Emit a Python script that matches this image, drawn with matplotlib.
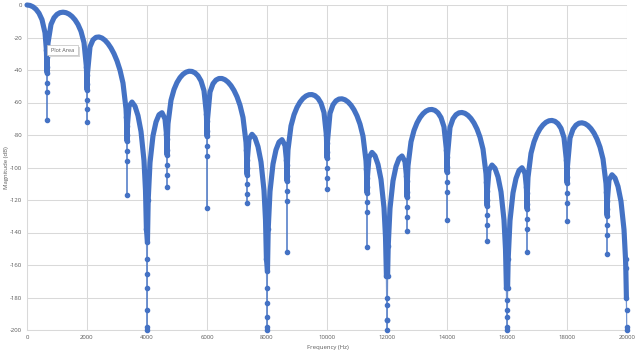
import matplotlib
matplotlib.use("Agg")
import matplotlib.pyplot as plt
from matplotlib.patches import FancyBboxPatch

# ---------------- data ----------------
# main curve, 100 Hz samples (null frequencies are listed in deep_* below)
grid_freq = [
    0, 100, 200, 300, 400, 500, 600, 700, 800, 900, 1000, 1100, 1200, 1300, 1400, 1500, 1600, 1700, 1800, 1900,
    2100, 2200, 2300, 2400, 2500, 2600, 2700, 2800, 2900, 3000, 3100, 3200, 3300, 3400, 3500, 3600, 3700, 3800, 3900,
    4100, 4200, 4300, 4400, 4500, 4600, 4700, 4800, 4900, 5000, 5100, 5200, 5300, 5400, 5500, 5600, 5700, 5800, 5900,
    6100, 6200, 6300, 6400, 6500, 6600, 6700, 6800, 6900, 7000, 7100, 7200, 7300, 7400, 7500, 7600, 7700, 7800, 7900,
    8100, 8200, 8300, 8400, 8500, 8600, 8700, 8800, 8900, 9000, 9100, 9200, 9300, 9400, 9500, 9600, 9700, 9800, 9900,
    10100, 10200, 10300, 10400, 10500, 10600, 10700, 10800, 10900, 11000, 11100, 11200, 11300, 11400, 11500, 11600, 11700, 11800, 11900,
    12100, 12200, 12300, 12400, 12500, 12600, 12700, 12800, 12900, 13000, 13100, 13200, 13300, 13400, 13500, 13600, 13700, 13800, 13900,
    14100, 14200, 14300, 14400, 14500, 14600, 14700, 14800, 14900, 15000, 15100, 15200, 15300, 15400, 15500, 15600, 15700, 15800, 15900,
    16100, 16200, 16300, 16400, 16500, 16600, 16700, 16800, 16900, 17000, 17100, 17200, 17300, 17400, 17500, 17600, 17700, 17800, 17900,
    18100, 18200, 18300, 18400, 18500, 18600, 18700, 18800, 18900, 19000, 19100, 19200, 19300, 19400, 19500, 19600, 19700, 19800, 19900,
]
grid_mag = [
    0.0, -0.27, -1.11, -2.62, -5.05, -9.01, -17.08, -23.43, -11.94, -7.84, -5.75, -4.71, -4.42, -4.72, -5.58, -7.02, -9.10, -12.01, -16.20, -23.15,
    -25.76, -21.43, -19.89, -19.67, -20.33, -21.71, -23.77, -26.50, -29.97, -34.37, -40.07, -48.06, -63.84, -62.28, -59.72, -62.30, -68.09, -77.83, -95.73,
    -97.03, -80.44, -72.00, -67.53, -66.27, -70.16, -73.05, -58.63, -52.00, -47.68, -44.68, -42.63, -41.34, -40.76, -40.88, -41.75, -43.54, -46.69, -52.68,
    -53.55, -48.43, -46.15, -45.23, -45.23, -45.99, -47.45, -49.62, -52.56, -56.45, -61.66, -69.20, -84.52, -82.55, -79.58, -81.77, -87.18, -96.57, -114.12,
    -114.77, -97.87, -89.14, -84.38, -82.84, -86.47, -89.10, -74.42, -67.55, -63.00, -59.77, -57.49, -55.99, -55.20, -55.12, -55.79, -57.39, -60.36, -66.16,
    -66.68, -61.40, -58.96, -57.88, -57.73, -58.33, -59.65, -61.67, -64.47, -68.23, -73.30, -80.71, -95.91, -93.81, -90.72, -92.79, -98.09, -107.36, -124.80,
    -125.23, -108.23, -99.39, -94.53, -92.89, -96.42, -98.95, -84.19, -77.22, -72.58, -69.26, -66.90, -65.32, -64.44, -64.28, -64.87, -66.39, -69.28, -75.01,
    -75.38, -70.02, -67.51, -66.36, -66.14, -66.68, -67.92, -69.88, -72.62, -76.31, -81.32, -88.67, -103.81, -101.65, -98.50, -100.51, -105.75, -114.97, -132.35,
    -132.68, -115.62, -106.73, -101.82, -100.12, -103.60, -106.09, -91.27, -84.26, -79.57, -76.21, -73.80, -72.17, -71.25, -71.04, -71.59, -73.06, -75.91, -81.60,
    -81.89, -76.49, -73.93, -72.74, -72.49, -72.99, -74.20, -76.12, -78.81, -82.47, -87.45, -94.75, -109.86, -107.66, -104.48, -106.46, -111.66, -120.85, -138.20,
]

# samples close to each null (upper part of the dip)
near_freq = [
    646.7, 660.7, 670.7, 678.7,
    1980, 1994, 2004, 2012,
    3313.3, 3327.3, 3337.3, 3345.3,
    3950, 3980, 4015, 4040,
    4646.7, 4660.7, 4670.7, 4678.7,
    5980, 5994, 6004, 6012,
    7313.3, 7327.3, 7337.3, 7345.3,
    7950, 7980, 8015, 8040,
    8646.7, 8660.7, 8670.7, 8678.7,
    9980, 9994, 10004, 10012,
    11313.3, 11327.3, 11337.3, 11345.3,
    11950, 11980, 12020, 12040,
    12646.7, 12660.7, 12670.7, 12678.7,
    13980, 13994, 14004, 14012,
    15313.3, 15327.3, 15337.3, 15345.3,
    15950, 15980, 16020, 16040,
    16646.7, 16660.7, 16670.7, 16678.7,
    17980, 17994, 18004, 18012,
    19313.3, 19327.3, 19337.3, 19345.3,
    19950, 19960, 19980,
]
near_mag = [
    -27.7, -38.2, -41.7, -32.2,
    -38.1, -48.7, -52.3, -42.9,
    -68.8, -79.9, -83.8, -74.6,
    -114.2, -138.1, -145.6, -120.0,
    -79.1, -89.1, -92.3, -82.5,
    -66.9, -77.4, -80.9, -71.4,
    -89.5, -100.5, -104.4, -95.1,
    -132.2, -156.1, -163.6, -138.1,
    -95.2, -105.2, -108.4, -98.6,
    -80.2, -90.7, -94.2, -84.7,
    -100.8, -111.8, -115.7, -106.5,
    -142.8, -166.7, -166.7, -148.6,
    -105.1, -115.1, -118.3, -108.5,
    -89.0, -99.5, -103.0, -93.5,
    -108.7, -119.7, -123.6, -114.3,
    -150.3, -174.2, -174.2, -156.1,
    -112.3, -122.3, -125.5, -115.6,
    -95.5, -106.0, -109.5, -100.0,
    -114.8, -125.7, -129.6, -120.4,
    -156.1, -161.9, -180.0,
]

# deepest samples at each null (the thin spikes)
deep_freq = [
    664.7, 666.7, 667.7,
    1998, 2000, 2001,
    3331.3, 3333.3, 3334.3,
    3990, 3995, 3998, 4000, 4003, 4007,
    4664.7, 4666.7, 4667.7,
    5998, 6000, 6001,
    7331.3, 7333.3, 7334.3,
    7990, 7995, 8000, 8004, 8007,
    8664.7, 8666.7, 8667.7,
    9998, 10000, 10001,
    11331.3, 11333.3, 11334.3,
    11990, 11993, 12000, 12007, 12012,
    12664.7, 12666.7, 12667.7,
    13998, 14000, 14001,
    15331.3, 15333.3, 15334.3,
    15985, 15990, 16000, 16008, 16012,
    16664.7, 16666.7, 16667.7,
    17998, 18000, 18001,
    19331.3, 19333.3, 19334.3,
    19985, 19990, 20000,
]
deep_mag = [
    -47.7, -71.0, -53.8,
    -58.3, -72.0, -64.3,
    -89.6, -117.0, -95.7,
    -156.1, -174.2, -198.1, -200.0, -187.5, -165.4,
    -98.5, -112.0, -104.4,
    -86.9, -125.0, -93.0,
    -110.2, -122.0, -116.3,
    -174.2, -192.2, -200.0, -198.1, -183.5,
    -114.6, -152.0, -120.6,
    -100.3, -113.0, -106.3,
    -121.5, -149.0, -127.6,
    -184.8, -194.0, -200.0, -194.0, -180.0,
    -124.5, -139.0, -130.5,
    -109.0, -132.0, -115.0,
    -129.4, -145.0, -135.5,
    -181.7, -192.2, -200.0, -198.1, -187.5,
    -131.7, -152.0, -137.6,
    -115.6, -133.0, -121.6,
    -135.4, -153.0, -141.5,
    -187.5, -198.1, -200.0,
]

x_ticks = [0, 2000, 4000, 6000, 8000, 10000, 12000, 14000, 16000, 18000, 20000]
y_ticks = [0, -20, -40, -60, -80, -100, -120, -140, -160, -180, -200]
x_title = "Frequency (Hz)"
y_title = "Magnitude (dB)"
tooltip_text = "Plot Area"

# ---------------- drawing ----------------
BLUE = "#4472C4"
GRID = "#D9D9D9"
TXT = "#595959"
FONT = ["Open Sans", "DejaVu Sans"]
plt.rcParams["font.family"] = FONT

band = sorted(zip(grid_freq + near_freq, grid_mag + near_mag))
allpts = sorted(zip(grid_freq + near_freq + deep_freq, grid_mag + near_mag + deep_mag))

fig = plt.figure(figsize=(6.4, 3.54), dpi=100)
fig.patch.set_facecolor("white")
ax = fig.add_axes([27 / 640, 1 - 330 / 354, 600 / 640, 325 / 354])
ax.set_xlim(0, 20000)
ax.set_ylim(-200, 0)

ax.set_xticks(x_ticks)
ax.set_yticks(y_ticks)
ax.set_xticklabels([str(t) for t in x_ticks])
ax.set_yticklabels([str(t) for t in y_ticks])
ax.tick_params(length=0, labelsize=4.3, labelcolor=TXT, pad=3.5)
ax.grid(True, color=GRID, linewidth=0.75)
ax.set_axisbelow(True)
for side in ["top", "right"]:
    ax.spines[side].set_visible(False)
for side in ["left", "bottom"]:
    ax.spines[side].set_color(GRID)
    ax.spines[side].set_linewidth(0.75)

bf, bm = zip(*band)
af, am = zip(*allpts)
# thick band formed by the densely packed markers
ax.plot(bf, bm, color=BLUE, lw=3.7, solid_joinstyle="round", solid_capstyle="round",
        clip_on=False, zorder=3)
# thin connecting line down into each null
ax.plot(af, am, color=BLUE, lw=0.9, alpha=0.75, clip_on=False, zorder=3)
# isolated sample markers along the spikes
ax.plot(deep_freq + near_freq, deep_mag + near_mag, ls="none", marker="o", ms=3.0,
        mec=BLUE, mfc=BLUE, clip_on=False, zorder=4)

fig.text(328 / 640, 1 - 348 / 354, x_title, ha="center", va="center", fontsize=4.3, color=TXT)
fig.text(7 / 640, 1 - 168 / 354, y_title, ha="center", va="center", rotation=90,
         fontsize=4.3, color=TXT)

# hover tooltip box
W, H = 640.0, 354.0
x0, y0, w, h = 47, 45, 31, 10
fig.patches.append(FancyBboxPatch(((x0 + 2) / W, 1 - (y0 + h + 2) / H), w / W, h / H,
                                  boxstyle="square,pad=0", transform=fig.transFigure,
                                  facecolor="#D8D8D8", edgecolor="none", zorder=10))
fig.patches.append(FancyBboxPatch((x0 / W, 1 - (y0 + h) / H), w / W, h / H,
                                  boxstyle="square,pad=0", transform=fig.transFigure,
                                  facecolor="white", edgecolor="#BFBFBF", linewidth=0.5, zorder=11))
fig.text((x0 + w / 2) / W, 1 - (y0 + h / 2) / H, tooltip_text, ha="center", va="center",
         fontsize=4.0, color=TXT, zorder=12)

fig.savefig("out.png", dpi=100, facecolor="white")
